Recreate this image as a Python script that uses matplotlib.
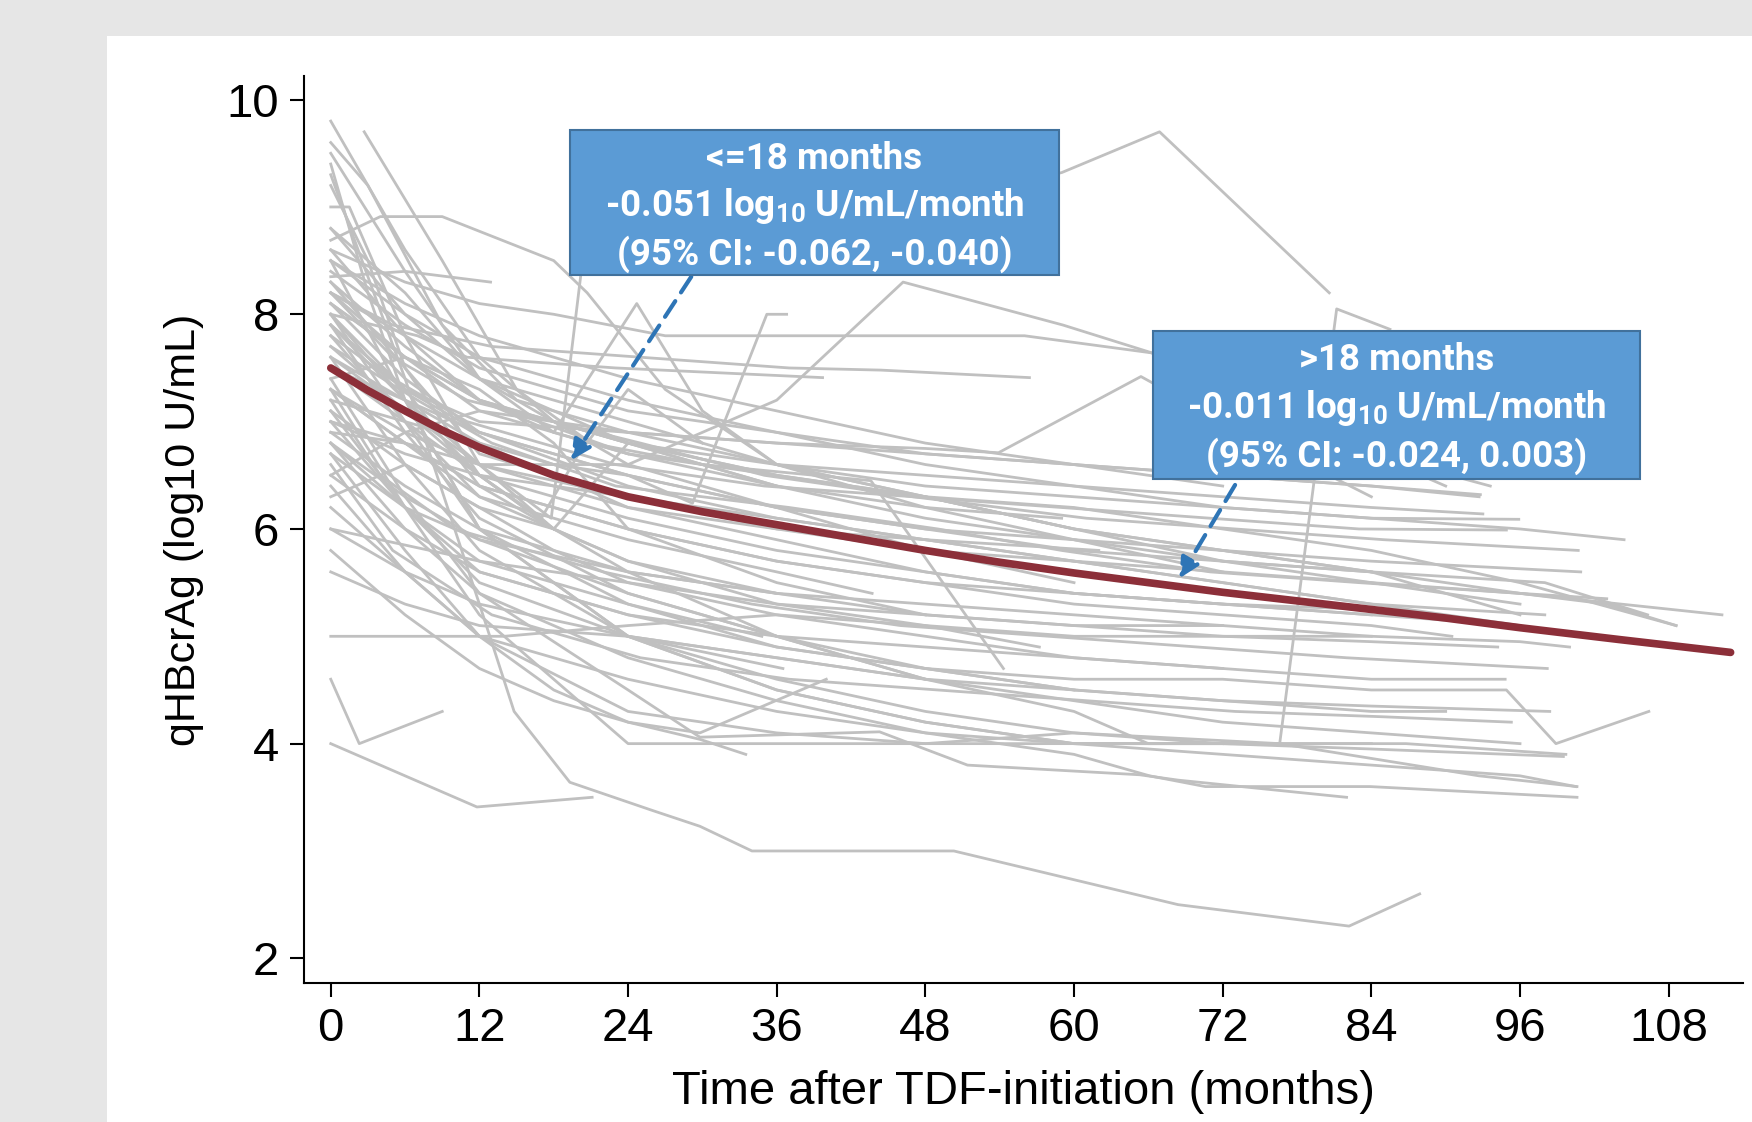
import matplotlib.pyplot as plt
from matplotlib.patches import Rectangle

# individual patient trajectories (months after TDF start, qHBcrAg log10 U/mL)
visit_months = [
    [0, 6, 12, 18, 24, 36, 48, 60],
    [0, 3, 9, 15, 24, 36, 48, 60, 72, 84, 96],
    [2.7, 9, 15, 21, 30, 43.6, 54.3],
    [0, 6, 12, 18, 24, 36, 48, 60, 72, 84, 96, 108.6],
    [0, 6, 12, 14.8, 19.3, 25.9, 29.8, 34, 50.3, 68.4, 82.2, 87.9],
    [0, 4, 9, 18, 20.7, 27, 36, 48, 60, 72],
    [0, 1.5, 6, 12, 18, 24, 36],
    [0, 6, 12.9],
    [0, 6, 12, 17.8, 20.2, 42, 59, 66.9, 80.6],
    [0, 6, 12, 18, 24, 29.2, 35.2, 36.8],
    [0, 12, 24, 36, 46.2, 59.1, 66.3, 72, 84],
    [0, 6, 12, 18, 27, 44, 56, 66.3, 78, 90],
    [0, 5, 13, 25, 37, 44.4, 56.4],
    [0, 7, 11, 23, 39.7],
    [0, 6, 12, 18, 24.7, 30, 36, 48, 60, 72, 84, 95.9],
    [0, 6, 12, 24, 36, 48, 53.9, 65.4, 72, 84, 93.6],
    [0, 6, 12, 24, 36, 48, 60, 66, 76.6, 81.2, 85.5],
    [0, 6, 12, 24, 36, 48, 60, 72, 84, 96, 104.4],
    [0, 5, 11, 25, 35, 47, 61, 73, 85, 100.7],
    [0, 6, 12, 24, 36, 48, 60, 72, 84, 100.9],
    [0, 6, 12, 24, 36, 48, 60, 72, 84, 96, 112.3],
    [0, 7, 13, 23, 37, 49, 59, 71, 83, 96, 103, 108.6],
    [0, 12, 24, 36, 48, 60, 72, 84, 98, 106.3],
    [0, 6, 12, 24, 36, 48, 60, 72, 84, 90.5],
    [0, 6, 12, 24, 36, 48, 60, 72, 84, 94.2],
    [0, 4, 10, 22, 34, 46, 58, 70, 82, 98.2],
    [0, 6, 12, 24, 36, 48, 60, 72, 84, 94.8],
    [0, 6, 12, 24, 36, 48, 60, 72, 84, 94.9, 98.9, 106.4],
    [0, 6, 12, 24, 36, 48, 60, 72, 84, 98.4],
    [0, 5, 13, 25, 37, 49, 61, 73, 85, 95.3],
    [0, 6, 12, 24, 36, 48, 60, 66, 76.6, 86.8, 99.7],
    [0, 6, 12, 24, 29.8, 44.3, 51.4, 65.3, 68.4, 82],
    [0, 6, 12, 24, 36, 48, 60, 66.1, 70.6, 83.9, 100.6],
    [0, 6, 12, 24, 36, 48, 60, 76.6, 92.7, 100.6],
    [0, 11.8, 21.1],
    [0, 2.3, 9],
    [0, 6, 12, 18, 24, 29.8, 33.5],
    [0, 6, 12, 18, 24, 29.8, 40],
    [0, 6, 12, 24, 36, 43.7],
    [0, 6, 12, 24, 34.8],
    [0, 6, 12, 24, 36.5],
    [0, 6, 12, 24, 36, 48, 57.2],
    [0, 6, 12, 24, 36, 48, 59],
    [0, 6, 12, 24, 36, 48, 62],
    [0, 8, 14, 24, 36, 48, 60, 72, 84],
    [0, 6, 12, 24, 36, 48, 60, 72, 84, 93.0],
    [0, 6, 12, 24, 36, 48, 60, 72, 84, 92.8],
    [0, 5, 11, 23, 35, 47, 59, 71, 83, 94.9],
    [0, 6, 12, 24, 36, 48, 60, 72, 84, 92.7],
    [0, 6, 12, 24, 36, 48, 60, 72, 84, 96],
    [0, 6, 12, 18, 24, 36],
    [0, 3, 6, 12, 18],
    [0, 6, 12, 24, 36, 48, 60, 72],
    [0, 6, 12, 24],
    [0, 6, 12, 18, 24, 36, 48],
    [0, 6, 12, 24, 36, 48, 60, 72, 84],
    [0, 6, 12, 24, 36, 48, 60, 72, 84, 96, 100],
    [0, 6, 12, 24, 36, 48],
    [0, 3, 6, 12, 24, 36, 48, 60],
    [0, 6, 12, 18, 24, 36, 48, 60, 72],
    [0, 6, 12, 24, 36, 48, 60, 72, 84, 96],
    [0, 6, 12, 24, 36, 48, 60, 72, 84, 99.5],
    [0, 6, 12, 24],
    [0, 12, 18, 24, 36],
    [0, 6, 12, 17, 20, 24, 30],
    [0, 6, 12, 24, 36, 48, 60, 72, 84, 96, 103],
    [0, 6, 12, 24, 36, 48, 60, 72, 84, 90],
    [0, 6, 12, 24, 36, 48, 60, 72, 84, 96, 100.5],
    [0, 6, 12, 24, 36, 48, 60, 72, 84, 96],
    [0, 12, 24, 36, 48, 60, 72],
    [0, 6, 12, 18],
    [0, 6, 12, 24, 36, 48, 60, 72, 84],
    [0, 6, 12, 24, 36, 48, 60, 72, 84, 96],
    [0, 6, 12, 24, 36, 48, 60, 72, 84],
    [0, 6, 12, 24, 36, 48, 60, 72, 84, 98],
    [0, 6, 12, 18, 24, 36, 48, 60, 72],
    [0, 6, 12, 24, 36, 48, 60, 72, 84],
]

hbcrag_levels = [
    [9.8, 8.6, 7.6, 7.0, 6.6, 6.2, 5.8, 5.5],
    [9.6, 9.2, 7.9, 7.2, 6.9, 6.6, 6.3, 6.0, 5.8, 5.6, 5.2],
    [9.7, 8.5, 7.3, 6.8, 6.6, 6.45, 4.7],
    [9.5, 8.4, 7.4, 6.9, 6.7, 6.5, 6.3, 6.2, 6.0, 5.8, 5.5, 5.1],
    [9.3, 7.4, 5.3, 4.3, 3.64, 3.38, 3.23, 3.0, 3.0, 2.5, 2.3, 2.6],
    [8.69, 8.91, 8.91, 8.5, 8.2, 7.3, 6.6, 6.2, 5.9, 5.6],
    [9.0, 9.0, 7.8, 6.6, 6.0, 5.7, 5.4],
    [8.35, 8.4, 8.3],
    [7.9, 7.2, 6.6, 6.1, 8.38, 8.9, 9.32, 9.7, 8.2],
    [7.6, 7.2, 6.8, 6.6, 6.5, 6.24, 8.0, 8.0],
    [7.0, 6.6, 6.6, 7.2, 8.3, 7.9, 7.64, 7.0, 6.3],
    [8.6, 8.3, 8.1, 8.0, 7.8, 7.8, 7.8, 7.64, 7.0, 6.4],
    [8.2, 7.9, 7.7, 7.6, 7.5, 7.48, 7.41],
    [8.0, 7.8, 7.6, 7.5, 7.41],
    [8.1, 7.6, 7.2, 6.9, 8.1, 7.1, 6.6, 6.4, 6.3, 6.2, 6.1, 6.09],
    [7.8, 7.3, 7.0, 6.9, 6.8, 6.75, 6.71, 7.42, 7.0, 6.7, 6.4],
    [6.8, 6.3, 5.9, 5.4, 5.0, 4.6, 4.3, 4.0, 4.0, 8.05, 7.86],
    [8.5, 8.0, 7.6, 7.2, 6.9, 6.6, 6.4, 6.2, 6.1, 6.0, 5.9],
    [8.2, 7.6, 7.2, 6.8, 6.5, 6.3, 6.1, 6.0, 5.9, 5.8],
    [7.9, 7.3, 6.9, 6.5, 6.2, 6.0, 5.9, 5.8, 5.7, 5.6],
    [8.1, 7.6, 7.2, 6.8, 6.5, 6.3, 6.0, 5.8, 5.6, 5.4, 5.2],
    [7.7, 7.2, 6.8, 6.4, 6.2, 6.0, 5.8, 5.6, 5.5, 5.4, 5.3, 5.1],
    [7.5, 6.9, 6.5, 6.2, 6.0, 5.8, 5.7, 5.6, 5.5, 5.2],
    [7.3, 6.8, 6.4, 6.0, 5.7, 5.5, 5.3, 5.2, 5.1, 5.0],
    [6.9, 6.4, 6.0, 5.6, 5.4, 5.2, 5.1, 5.0, 4.95, 4.9],
    [7.2, 6.5, 6.0, 5.6, 5.3, 5.1, 5.0, 4.9, 4.8, 4.7],
    [6.5, 6.0, 5.6, 5.2, 5.0, 4.9, 4.8, 4.7, 4.6, 4.6],
    [7.0, 6.2, 5.6, 5.2, 4.9, 4.7, 4.6, 4.6, 4.5, 4.5, 4.0, 4.3],
    [6.0, 5.6, 5.3, 5.0, 4.8, 4.6, 4.5, 4.4, 4.35, 4.3],
    [6.6, 5.8, 5.2, 4.8, 4.6, 4.5, 4.4, 4.3, 4.25, 4.2],
    [8.0, 7.0, 6.0, 5.0, 4.5, 4.2, 4.0, 4.0, 4.0, 4.0, 3.9],
    [7.4, 6.3, 5.4, 4.5, 4.06, 4.11, 3.8, 3.71, 3.66, 3.5],
    [6.8, 6.0, 5.4, 4.8, 4.4, 4.1, 3.9, 3.7, 3.6, 3.6, 3.5],
    [7.6, 6.6, 5.8, 5.0, 4.6, 4.3, 4.1, 4.0, 3.7, 3.6],
    [4.0, 3.41, 3.5],
    [4.6, 4.0, 4.3],
    [6.2, 5.6, 5.0, 4.5, 4.2, 4.04, 3.9],
    [5.8, 5.2, 4.7, 4.4, 4.2, 4.1, 4.6],
    [7.3, 6.8, 6.3, 5.9, 5.6, 5.4],
    [6.8, 6.2, 5.7, 5.3, 5.0],
    [7.1, 6.2, 5.5, 5.0, 4.7],
    [7.8, 7.0, 6.3, 5.7, 5.3, 5.1, 4.9],
    [8.3, 7.7, 7.2, 6.7, 6.4, 6.2, 6.1],
    [7.6, 7.1, 6.6, 6.2, 6.0, 5.9, 5.8],
    [5.0, 5.0, 5.0, 5.1, 5.2, 5.1, 5.0, 5.0, 5.0],
    [8.6, 7.8, 7.2, 6.8, 6.6, 6.5, 6.4, 6.3, 6.2, 6.14],
    [8.4, 7.9, 7.5, 7.1, 6.9, 6.7, 6.6, 6.5, 6.4, 6.32],
    [7.9, 7.4, 7.0, 6.6, 6.4, 6.3, 6.2, 6.1, 6.0, 5.99],
    [8.2, 7.6, 7.1, 6.9, 6.8, 6.7, 6.6, 6.5, 6.4, 6.3],
    [7.0, 6.7, 6.5, 6.3, 6.1, 5.9, 5.7, 5.5, 5.3, 5.1],
    [8.8, 8.0, 7.4, 7.0, 6.8, 6.5],
    [9.2, 8.5, 7.5, 6.5, 6.0],
    [8.5, 8.1, 7.8, 7.4, 7.1, 6.8, 6.6, 6.4],
    [6.5, 6.9, 7.1, 6.7],
    [7.4, 7.6, 7.3, 6.8, 6.0, 5.5, 5.2],
    [7.2, 7.0, 6.8, 6.2, 5.9, 5.6, 5.4, 5.3, 5.2],
    [6.7, 6.2, 5.9, 5.6, 5.4, 5.3, 5.2, 5.1, 5.0, 4.95, 4.9],
    [8.0, 7.3, 6.4, 5.6, 5.0, 4.6],
    [9.4, 8.2, 7.2, 6.0, 5.3, 4.9, 4.7, 4.5],
    [6.3, 6.6, 6.2, 5.8, 5.5, 5.2, 5.0, 4.8, 4.7],
    [5.6, 5.3, 5.1, 5.0, 4.8, 4.6, 4.4, 4.2, 4.1, 4.0],
    [6.4, 5.6, 5.0, 4.6, 4.3, 4.1, 4.0, 4.0, 3.95, 3.88],
    [8.3, 7.5, 6.7, 6.3],
    [7.7, 6.5, 6.0, 6.8, 6.4],
    [8.0, 7.2, 6.5, 6.1, 6.7, 7.3, 6.8],
    [7.3, 6.9, 6.6, 6.3, 6.0, 5.8, 5.7, 5.6, 5.5, 5.4, 5.35],
    [7.9, 6.9, 6.1, 5.4, 5.0, 4.7, 4.5, 4.4, 4.3, 4.3],
    [8.5, 7.2, 6.0, 5.0, 4.5, 4.2, 4.0, 3.9, 3.8, 3.7, 3.6],
    [8.2, 7.8, 7.4, 7.0, 6.6, 6.3, 6.0, 5.7, 5.5, 5.3],
    [6.0, 5.7, 5.5, 5.3, 5.2, 5.1, 5.1],
    [7.1, 6.6, 6.2, 6.0],
    [8.8, 8.2, 7.4, 6.8, 6.4, 6.1, 5.9, 5.7, 5.6],
    [7.5, 7.0, 6.5, 6.1, 5.8, 5.6, 5.4, 5.3, 5.2, 5.1],
    [6.9, 6.8, 6.4, 6.0, 5.7, 5.5, 5.4, 5.3, 5.25],
    [8.1, 7.4, 6.9, 6.4, 6.1, 5.9, 5.7, 5.5, 5.3, 5.2],
    [7.3, 6.2, 5.2, 4.6, 4.0, 4.0, 4.0, 4.1, 4.0],
    [6.7, 5.8, 5.0, 4.3, 4.1, 4.0, 4.0, 4.0, 4.0],
]

# population-average (fitted) curve
fit_months = [0, 3, 6, 9, 12, 18, 24, 30, 36, 42, 48, 54, 60, 66, 72, 78, 84, 90, 96, 104, 113]
fit_levels = [7.50, 7.29, 7.10, 6.92, 6.76, 6.50, 6.30, 6.16, 6.04, 5.92, 5.80, 5.69,
              5.59, 5.50, 5.41, 5.33, 5.25, 5.17, 5.08, 4.97, 4.85]

x_ticks = [0, 12, 24, 36, 48, 60, 72, 84, 96, 108]
y_ticks = [2, 4, 6, 8, 10]

box_early = ["<=18 months", "-0.051 log$_{10}$ U/mL/month", "(95% CI: -0.062, -0.040)"]
box_late = [">18 months", "-0.011 log$_{10}$ U/mL/month", "(95% CI: -0.024, 0.003)"]

plt.rcParams["font.family"] = ["Liberation Sans", "DejaVu Sans"]
plt.rcParams["mathtext.default"] = "regular"

fig = plt.figure(figsize=(17.52, 11.22), dpi=100, facecolor="#e6e6e6")
fig.patches.append(Rectangle((107 / 1752, 0), 1, 1 - 36 / 1122, transform=fig.transFigure,
                             facecolor="white", edgecolor="none", zorder=-10))
ax = fig.add_axes([304 / 1752, 1 - 983 / 1122, (1743 - 304) / 1752, (983 - 76) / 1122])
ax.set_facecolor("none")

for t, v in zip(visit_months, hbcrag_levels):
    ax.plot(t, v, color="#c0c0c0", lw=2.0, zorder=2)

ax.plot(fit_months, fit_levels, color="#8c2f39", lw=5.5, solid_capstyle="round", zorder=4)

ax.set_xlim(-2.16, 114)
ax.set_ylim(1.77, 10.22)
ax.set_xticks(x_ticks)
ax.set_yticks(y_ticks)
ax.tick_params(labelsize=34, length=10, width=1.5)
ax.tick_params(axis="x", pad=7)
ax.tick_params(axis="y", pad=8)
for s in ["top", "right"]:
    ax.spines[s].set_visible(False)
for s in ["left", "bottom"]:
    ax.spines[s].set_linewidth(1.5)

ax.set_xlabel("Time after TDF-initiation (months)", fontsize=34, labelpad=14)
ax.set_ylabel("qHBcrAg (log10 U/mL)", fontsize=31, labelpad=16)

box_font = ["Roboto", "Open Sans", "DejaVu Sans"]


def draw_box(x0, x1, y0, y1, lines, line_y):
    ax.add_patch(Rectangle((x0, y0), x1 - x0, y1 - y0, facecolor="#5b9bd5",
                           edgecolor="#41719c", lw=1.5, zorder=6))
    for txt, ty in zip(lines, line_y):
        ax.text((x0 + x1) / 2, ty, txt, ha="center", va="center", color="white",
                fontsize=26.5, fontweight="bold", family=box_font, zorder=7)


draw_box(19.3, 58.8, 8.37, 9.72, box_early, [9.45, 9.01, 8.56])
draw_box(66.4, 105.7, 6.47, 7.84, box_late, [7.57, 7.13, 6.68])

arrow = dict(arrowstyle="-|>", linestyle=(0, (4.5, 2.5)), color="#2e75b6", lw=3,
             mutation_scale=30, shrinkA=0, shrinkB=0)
ax.annotate("", xy=(19.4, 6.64), xytext=(29.1, 8.35), arrowprops=arrow, zorder=5)
ax.annotate("", xy=(68.5, 5.54), xytext=(73.0, 6.41), arrowprops=arrow, zorder=5)

fig.savefig("out.png", dpi=100, facecolor=fig.get_facecolor())
